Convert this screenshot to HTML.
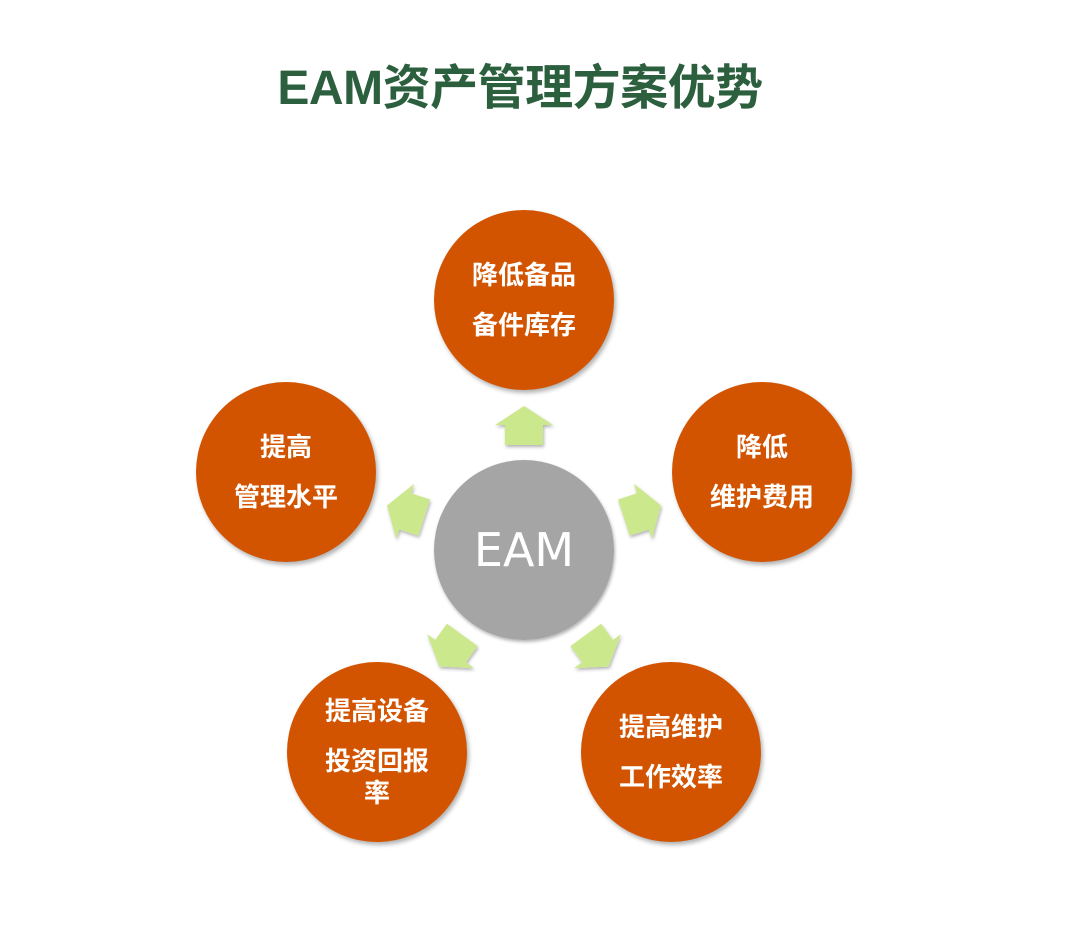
<!DOCTYPE html>
<html><head><meta charset="utf-8"><style>
body{margin:0;width:1066px;height:930px;background:#fff;position:relative;overflow:hidden;font-family:"Liberation Sans","Noto Sans CJK SC",sans-serif}
.t{position:absolute;left:0;width:1040px;top:48px;text-align:center;font-size:48px;font-weight:bold;color:#2b5f3d;letter-spacing:-0.5px}
.c{position:absolute;width:180px;height:180px;border-radius:50%;background:#d35400;color:#fff;font-weight:bold;font-size:26px;display:flex;align-items:center;justify-content:center;text-align:center;box-shadow:2px 3px 4px rgba(0,0,0,.3);line-height:50px}
.c span{display:block}
</style></head><body>
<div class="t">EAM资产管理方案优势</div>
<svg width="1066" height="930" style="position:absolute;left:0;top:0">
<defs><filter id="s"><feDropShadow dx="1" dy="2" stdDeviation="1.5" flood-opacity="0.3"/></filter></defs>
<g fill="#cce88c" filter="url(#s)">
<g transform="rotate(0 524 550)"><polygon points="524,406 553,425 543,425 543,445 505,445 505,425 495,425"/></g>
<g transform="rotate(72 524 550)"><polygon points="524,406 553,425 543,425 543,445 505,445 505,425 495,425"/></g>
<g transform="rotate(144 524 550)"><polygon points="524,406 553,425 543,425 543,445 505,445 505,425 495,425"/></g>
<g transform="rotate(216 524 550)"><polygon points="524,406 553,425 543,425 543,445 505,445 505,425 495,425"/></g>
<g transform="rotate(288 524 550)"><polygon points="524,406 553,425 543,425 543,445 505,445 505,425 495,425"/></g>
</g>
<circle cx="524" cy="550" r="90" fill="#a5a5a5" filter="url(#s)"/>
<text x="524" y="566" text-anchor="middle" fill="#fff" font-size="46" font-family="DejaVu Sans,Liberation Sans,sans-serif">EAM</text>
</svg>
<div class="c" style="left:434px;top:210px"><div><span>降低备品</span><span>备件库存</span></div></div>
<div class="c" style="left:672px;top:382px"><div><span>降低</span><span>维护费用</span></div></div>
<div class="c" style="left:196px;top:382px"><div><span>提高</span><span>管理水平</span></div></div>
<div class="c" style="left:287px;top:662px"><div style="line-height:40px;margin-top:-8px"><span style="margin-bottom:10px">提高设备</span><span>投资回报</span><span style="line-height:24px">率</span></div></div>
<div class="c" style="left:581px;top:662px"><div><span>提高维护</span><span>工作效率</span></div></div>
</body></html>
